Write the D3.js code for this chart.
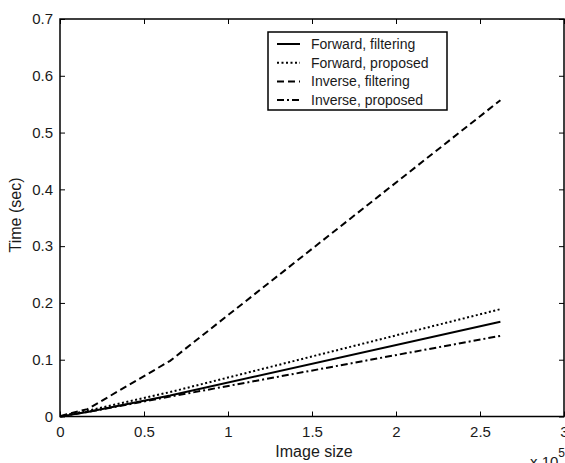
<!DOCTYPE html>
<html>
<head>
<meta charset="utf-8">
<script src="https://cdn.jsdelivr.net/npm/d3@7/dist/d3.min.js"></script>
<style>
  html, body { margin: 0; padding: 0; background: #fff; }
  svg { display: block; }
  text { font-family: "Liberation Sans", Arial, Helvetica, sans-serif; fill: #1a1a1a; }
</style>
</head>
<body>
<svg id="chart" width="565" height="463"></svg>
<script>
// Image sizes (pixels, in units of 1e5): 16², 32², 64², 128², 256², 512²
const imageSizes = [0.00256, 0.01024, 0.04096, 0.16384, 0.65536, 2.62144];

// Run times in seconds
const forwardFiltering = [0.0002, 0.0006, 0.002, 0.008, 0.037, 0.167];
const forwardProposed  = [0.0002, 0.0007, 0.003, 0.010, 0.043, 0.189];
const inverseFiltering = [0.0004, 0.0012, 0.004, 0.013, 0.098, 0.557];
const inverseProposed  = [0.0002, 0.0006, 0.002, 0.008, 0.035, 0.142];

const seriesNames = ["Forward, filtering", "Forward, proposed", "Inverse, filtering", "Inverse, proposed"];
const xTicks = [0, 0.5, 1, 1.5, 2, 2.5, 3];
const yTicks = [0, 0.1, 0.2, 0.3, 0.4, 0.5, 0.6, 0.7];

const series = [forwardFiltering, forwardProposed, inverseFiltering, inverseProposed];
const dashes = [null, "2,2.5", "7,4", "7,3,2,3"];

const svg = d3.select("#chart");
const m = { left: 60, right: 564, top: 19, bottom: 416.5 };

const x = d3.scaleLinear().domain([0, 3]).range([m.left, m.right]);
const y = d3.scaleLinear().domain([0, 0.7]).range([m.bottom, m.top]);

// Axes with inward ticks on all four sides
const fmt = d => d === 0 ? "0" : String(d);
const tickLen = 5;

svg.append("g")
  .attr("transform", `translate(0,${m.bottom})`)
  .call(d3.axisBottom(x).tickValues(xTicks).tickFormat(fmt).tickSizeInner(-tickLen).tickSizeOuter(0).tickPadding(10))
  .call(g => g.select(".domain").remove());

svg.append("g")
  .attr("transform", `translate(0,${m.top})`)
  .call(d3.axisTop(x).tickValues(xTicks).tickFormat("").tickSizeInner(-tickLen).tickSizeOuter(0))
  .call(g => g.select(".domain").remove());

svg.append("g")
  .attr("transform", `translate(${m.left},0)`)
  .call(d3.axisLeft(y).tickValues(yTicks).tickFormat(fmt).tickSizeInner(-tickLen).tickSizeOuter(0).tickPadding(7))
  .call(g => g.select(".domain").remove());

svg.append("g")
  .attr("transform", `translate(${m.right},0)`)
  .call(d3.axisRight(y).tickValues(yTicks).tickFormat("").tickSizeInner(-tickLen).tickSizeOuter(0))
  .call(g => g.select(".domain").remove());

svg.selectAll(".tick line").attr("stroke", "#000").attr("stroke-width", 1);
svg.selectAll(".tick text").attr("font-size", 15).attr("fill", "#1a1a1a")
  .attr("font-family", "'Liberation Sans', Arial, sans-serif");

// Frame
svg.append("rect")
  .attr("x", m.left).attr("y", m.top)
  .attr("width", m.right - m.left).attr("height", m.bottom - m.top)
  .attr("fill", "none").attr("stroke", "#000").attr("stroke-width", 1.5);

// Series lines
const line = d3.line().x((d, i) => x(imageSizes[i])).y(d => y(d));
series.forEach((vals, k) => {
  svg.append("path")
    .datum(vals)
    .attr("d", line)
    .attr("fill", "none")
    .attr("stroke", "#000")
    .attr("stroke-width", 2)
    .attr("stroke-dasharray", dashes[k]);
});

// Axis titles
svg.append("text")
  .attr("x", (m.left + m.right) / 2 + 2).attr("y", 457)
  .attr("text-anchor", "middle").attr("font-size", 16)
  .text("Image size");

svg.append("text")
  .attr("transform", "translate(21,215) rotate(-90)")
  .attr("text-anchor", "middle").attr("font-size", 16)
  .text("Time (sec)");

// Exponent label
const ex = svg.append("text").attr("x", 530).attr("y", 467).attr("font-size", 15);
ex.append("tspan").text("x 10");
ex.append("tspan").attr("dy", -10).attr("font-size", 12).text("5");

// Legend
const lg = svg.append("g");
lg.append("rect")
  .attr("x", 268).attr("y", 32).attr("width", 179).attr("height", 78)
  .attr("fill", "#fff").attr("stroke", "#000").attr("stroke-width", 1.5);
seriesNames.forEach((name, k) => {
  const ry = 44 + k * 18.7;
  lg.append("line")
    .attr("x1", 277).attr("x2", 300).attr("y1", ry).attr("y2", ry)
    .attr("stroke", "#000").attr("stroke-width", 2)
    .attr("stroke-dasharray", dashes[k]);
  lg.append("text")
    .attr("x", 311).attr("y", ry + 5).attr("font-size", 14)
    .text(name);
});
</script>
</body>
</html>
